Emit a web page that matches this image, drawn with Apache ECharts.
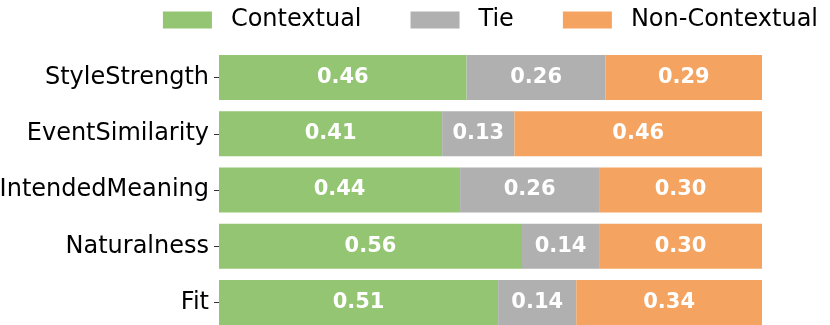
<!DOCTYPE html>
<html>
<head>
<meta charset="utf-8">
<script src="https://cdn.jsdelivr.net/npm/echarts@6/dist/echarts.min.js"></script>
<style>
  html, body { margin: 0; padding: 0; background: #fff; }
  #chart { width: 830px; height: 325px; }
</style>
</head>
<body>
<div id="chart"></div>
<script>
// categories, top to bottom
var categories = ['StyleStrength', 'EventSimilarity', 'IntendedMeaning', 'Naturalness', 'Fit'];
var contextual = [0.456, 0.411, 0.444, 0.558, 0.514];
var tie = [0.256, 0.133, 0.256, 0.142, 0.144];
var nonContextual = [0.288, 0.456, 0.300, 0.300, 0.342];

var FONT = 'DejaVu Sans';

function barSeries(name, data, color) {
  return {
    name: name,
    type: 'bar',
    stack: 'all',
    data: data,
    barWidth: '80%',
    itemStyle: { color: color },
    label: {
      show: true,
      position: 'inside',
      color: '#fff',
      fontFamily: FONT,
      fontWeight: 'bold',
      fontSize: 21,
      formatter: function (p) { return p.value.toFixed(2); }
    }
  };
}

var chart = echarts.init(document.getElementById('chart'));
chart.setOption({
  animation: false,
  legend: {
    right: 7,
    top: 3,
    itemWidth: 49,
    itemHeight: 17,
    itemGap: 49,
    icon: 'rect',
    textStyle: { fontFamily: FONT, fontSize: 24, color: '#000', padding: [0, 0, 0, 14], lineHeight: 24 },
    data: ['Contextual', 'Tie', 'Non-Contextual']
  },
  grid: { left: 219, right: 68, top: 49.4, height: 281.25, outerBoundsMode: 'none' },
  xAxis: { type: 'value', min: 0, max: 1, show: false },
  yAxis: {
    type: 'category',
    inverse: true,
    data: categories,
    axisLine: { show: false },
    axisTick: { show: true, length: 5, lineStyle: { color: '#333' }, alignWithLabel: true },
    axisLabel: { fontFamily: FONT, fontSize: 24, color: '#000', margin: 10 }
  },
  series: [
    barSeries('Contextual', contextual, '#93c572'),
    barSeries('Tie', tie, '#b0b0b0'),
    barSeries('Non-Contextual', nonContextual, '#f4a460')
  ]
});
</script>
</body>
</html>
